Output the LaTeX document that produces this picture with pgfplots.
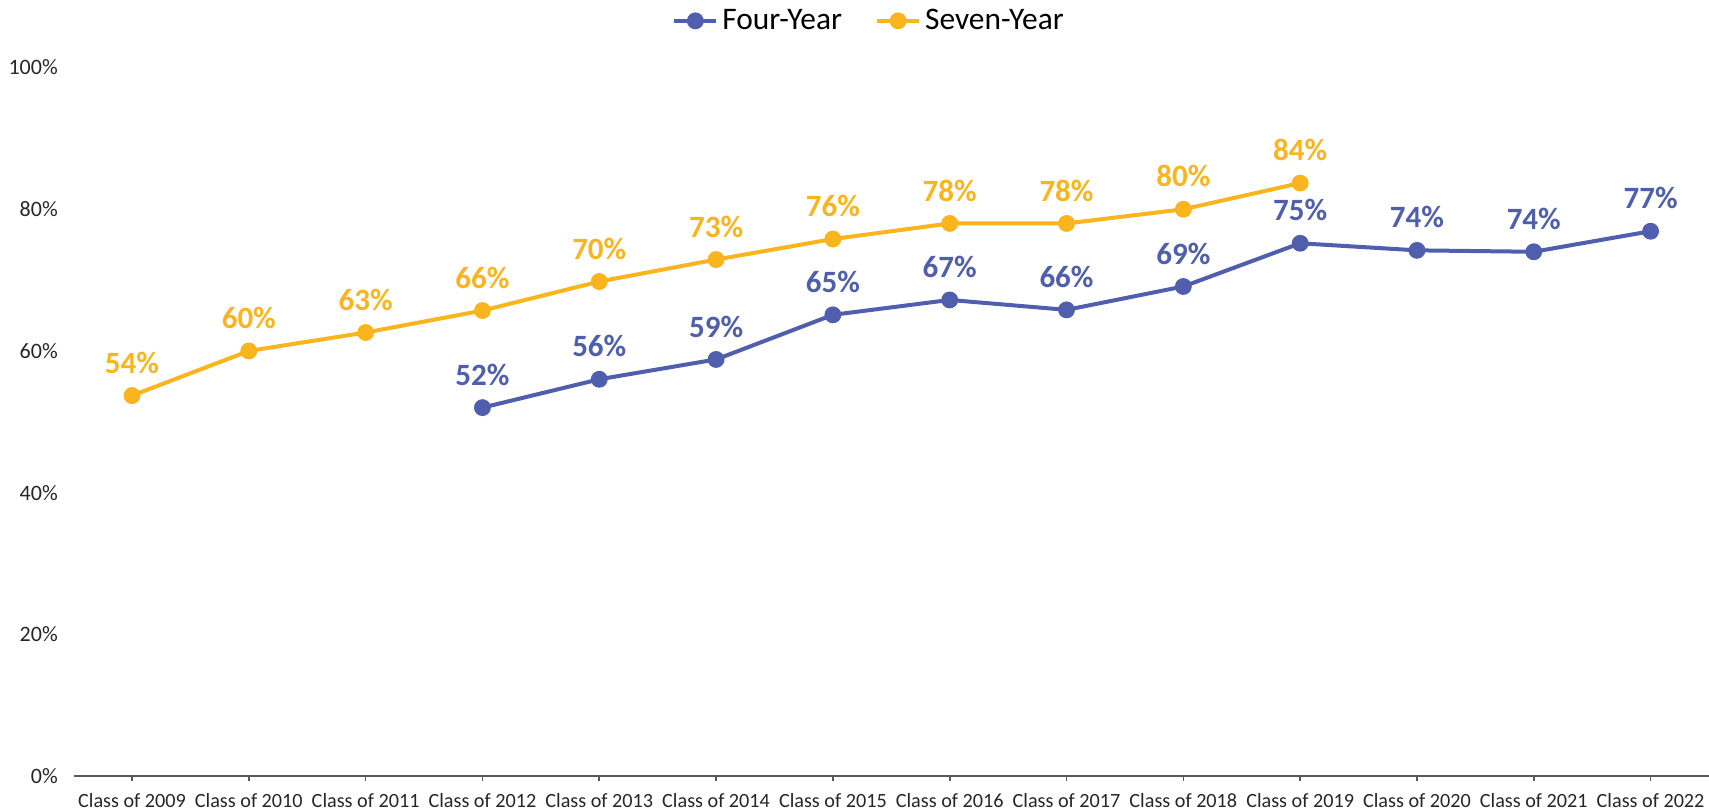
\documentclass[border=0pt]{standalone}
\usepackage{fontspec}
\setmainfont{Carlito}
\usepackage{pgfplots}
\pgfplotsset{compat=1.18}
\definecolor{fouryr}{RGB}{79,95,173}
\definecolor{sevenyr}{RGB}{250,180,30}
\definecolor{axisgray}{RGB}{89,89,89}

\begin{document}
\begin{tikzpicture}
\begin{axis}[
  scale only axis,
  width=817.7pt, height=354.2pt,
  xmin=-0.5, xmax=13.5, ymin=0, ymax=100,
  clip=false,
  axis lines*=left,
  y axis line style={draw=none},
  x axis line style={axisgray, line width=0.8pt},
  xtick={0,...,13},
  xticklabels={Class of 2009,Class of 2010,Class of 2011,Class of 2012,Class of 2013,Class of 2014,Class of 2015,Class of 2016,Class of 2017,Class of 2018,Class of 2019,Class of 2020,Class of 2021,Class of 2022},
  ytick={0,20,40,60,80,100},
  yticklabels={0\%,20\%,40\%,60\%,80\%,100\%},
  tick align=outside,
  major tick length=2.7pt,
  x tick style={axisgray, line width=0.8pt},
  y tick style={draw=none},
  xticklabel style={font=\fontsize{10.1}{12}\selectfont, text=black!85, yshift=-2.4pt},
  yticklabel style={font=\fontsize{11}{13}\selectfont, text=black!85, xshift=-1.7pt},
  /pgf/number format/assume math mode=true,
  legend columns=2,
  legend style={at={(axis description cs:0.487,1.066)}, anchor=center, draw=none,
    font=\fontsize{15.7}{18}\selectfont, /tikz/every even column/.append style={column sep=14.5pt}},
  legend image code/.code={\draw[mark repeat=2,mark phase=2] plot coordinates {(0pt,0pt)(10.5pt,0pt)(21pt,0pt)};},
  every node near coord/.append style={font=\bfseries\fontsize{15.5}{18}\selectfont, anchor=center, yshift=16.5pt},
]
\addplot[fouryr, line width=2pt, mark=*, mark size=3.2pt,
  nodes near coords={\pgfmathprintnumber[fixed,precision=0]{\pgfplotspointmeta}\%},
  every node near coord/.append style={text=fouryr}]
  coordinates {(3,52.0)(4,56.0)(5,58.8)(6,65.1)(7,67.2)(8,65.8)(9,69.1)(10,75.2)(11,74.2)(12,74.0)(13,76.9)};
\addplot[sevenyr, line width=2pt, mark=*, mark size=3.2pt,
  nodes near coords={\pgfmathprintnumber[fixed,precision=0]{\pgfplotspointmeta}\%},
  every node near coord/.append style={text=sevenyr}]
  coordinates {(0,53.7)(1,60.0)(2,62.6)(3,65.7)(4,69.8)(5,72.9)(6,75.8)(7,78.0)(8,78.0)(9,80.0)(10,83.7)};
\legend{Four-Year,Seven-Year}
\end{axis}
\pgfresetboundingbox
\path[use as bounding box] (-36.8pt,-18pt) rectangle (817.7pt,388pt);
\end{tikzpicture}
\end{document}
